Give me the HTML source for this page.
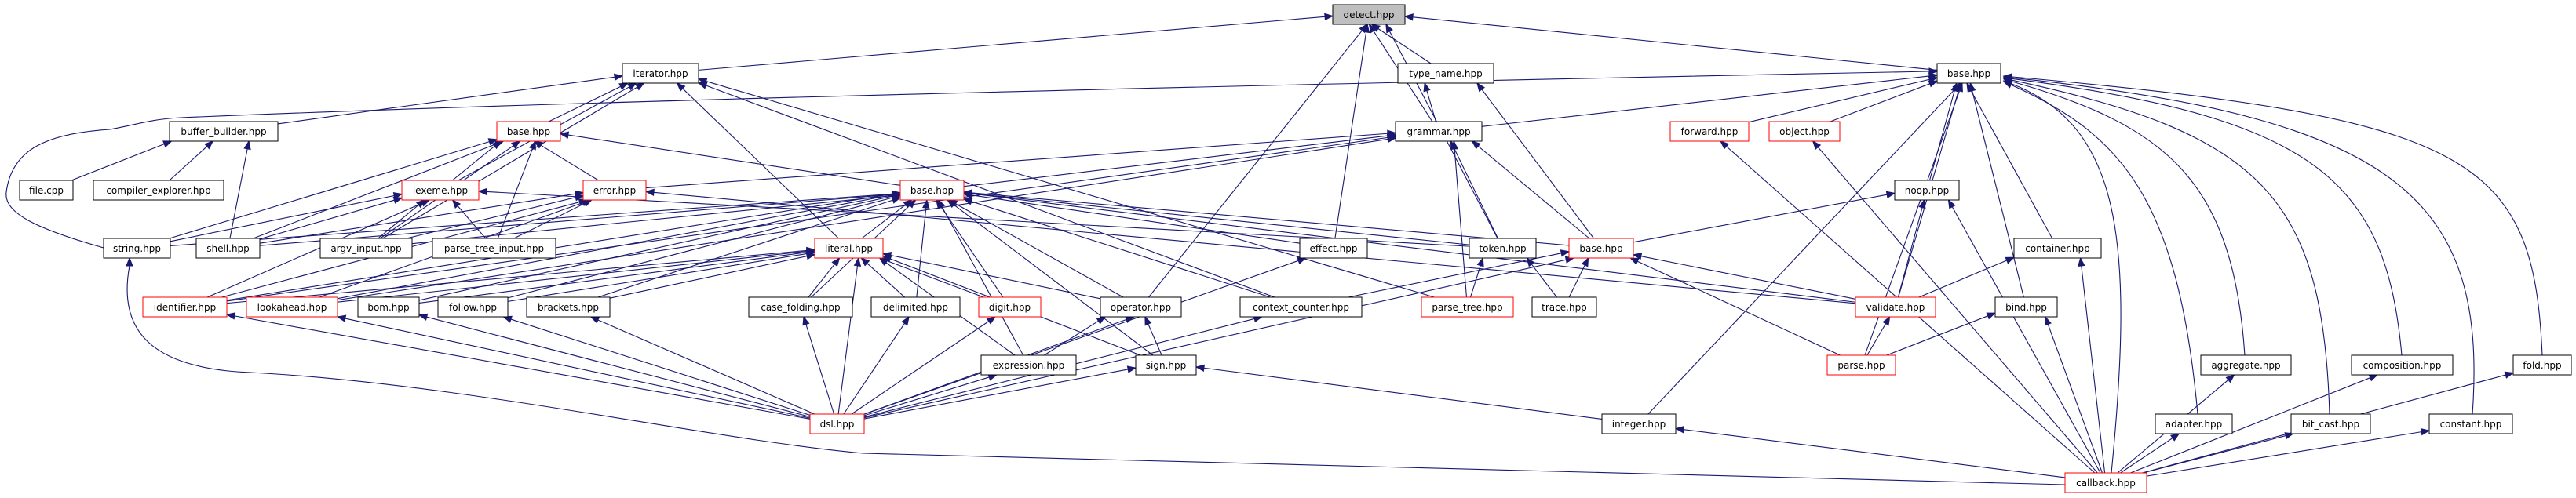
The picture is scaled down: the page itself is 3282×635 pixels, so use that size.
<!DOCTYPE html>
<html><head><meta charset="utf-8">
<style>
html,body{margin:0;padding:0;background:#fff;}
svg{display:block;}
text{font-family:"DejaVu Sans","Liberation Sans",sans-serif;font-size:12px;fill:#000;}
</style></head>
<body>
<svg id="g" width="3282" height="635" viewBox="0 0 3282 635" xmlns="http://www.w3.org/2000/svg">
<g id="edges" fill="none" stroke="#191970" stroke-width="1.1">
<path d="M165,339 C150,420 190,470 320,475 C600,490 900,560 1100,578 L2631,618"/>
<path d="M132,316 C40,290 5,270 8,245 C15,190 60,170 140,165 C170,160 190,152 230,150 C700,130 1500,110 2458,91"/>
</g>
<g id="heads" fill="#191970" stroke="#191970">
<polygon points="165,329 161,339 169,339"/>
<polygon points="2468,91 2458,87 2458,95"/>
</g>
<g id="nodes">
<rect x="1698" y="6" width="92" height="25" fill="#bfbfbf" stroke="#000"/><text x="1744" y="23" text-anchor="middle">detect.hpp</text>
<rect x="793" y="81" width="97" height="25" fill="#fff" stroke="#000"/><text x="841.5" y="98" text-anchor="middle">iterator.hpp</text>
<rect x="1781" y="81" width="122" height="25" fill="#fff" stroke="#000"/><text x="1842" y="98" text-anchor="middle">type_name.hpp</text>
<rect x="2468" y="81" width="81" height="25" fill="#fff" stroke="#000"/><text x="2508.5" y="98" text-anchor="middle">base.hpp</text>
<rect x="216" y="155" width="138" height="25" fill="#fff" stroke="#000"/><text x="285" y="172" text-anchor="middle">buffer_builder.hpp</text>
<rect x="633" y="155" width="81" height="25" fill="#fff" stroke="#f00"/><text x="673.5" y="172" text-anchor="middle">base.hpp</text>
<rect x="1778" y="155" width="110" height="25" fill="#fff" stroke="#000"/><text x="1833" y="172" text-anchor="middle">grammar.hpp</text>
<rect x="2128" y="155" width="100" height="25" fill="#fff" stroke="#f00"/><text x="2178" y="172" text-anchor="middle">forward.hpp</text>
<rect x="2254" y="155" width="90" height="25" fill="#fff" stroke="#f00"/><text x="2299" y="172" text-anchor="middle">object.hpp</text>
<rect x="25" y="230" width="68" height="25" fill="#fff" stroke="#000"/><text x="59" y="247" text-anchor="middle">file.cpp</text>
<rect x="119" y="230" width="166" height="25" fill="#fff" stroke="#000"/><text x="202" y="247" text-anchor="middle">compiler_explorer.hpp</text>
<rect x="512" y="230" width="98" height="25" fill="#fff" stroke="#f00"/><text x="561" y="247" text-anchor="middle">lexeme.hpp</text>
<rect x="743" y="230" width="80" height="25" fill="#fff" stroke="#f00"/><text x="783" y="247" text-anchor="middle">error.hpp</text>
<rect x="1147" y="230" width="81" height="25" fill="#fff" stroke="#f00"/><text x="1187.5" y="247" text-anchor="middle">base.hpp</text>
<rect x="2414" y="230" width="82" height="25" fill="#fff" stroke="#000"/><text x="2455" y="247" text-anchor="middle">noop.hpp</text>
<rect x="132" y="304" width="85" height="25" fill="#fff" stroke="#000"/><text x="174.5" y="321" text-anchor="middle">string.hpp</text>
<rect x="250" y="304" width="81" height="25" fill="#fff" stroke="#000"/><text x="290.5" y="321" text-anchor="middle">shell.hpp</text>
<rect x="408" y="304" width="117" height="25" fill="#fff" stroke="#000"/><text x="466.5" y="321" text-anchor="middle">argv_input.hpp</text>
<rect x="551" y="304" width="157" height="25" fill="#fff" stroke="#000"/><text x="629.5" y="321" text-anchor="middle">parse_tree_input.hpp</text>
<rect x="1038" y="304" width="87" height="25" fill="#fff" stroke="#f00"/><text x="1081.5" y="321" text-anchor="middle">literal.hpp</text>
<rect x="1656" y="304" width="86" height="25" fill="#fff" stroke="#000"/><text x="1699" y="321" text-anchor="middle">effect.hpp</text>
<rect x="1872" y="304" width="85" height="25" fill="#fff" stroke="#000"/><text x="1914.5" y="321" text-anchor="middle">token.hpp</text>
<rect x="1999" y="304" width="82" height="25" fill="#fff" stroke="#f00"/><text x="2040" y="321" text-anchor="middle">base.hpp</text>
<rect x="2566" y="304" width="111" height="25" fill="#fff" stroke="#000"/><text x="2621.5" y="321" text-anchor="middle">container.hpp</text>
<rect x="182" y="379" width="107" height="25" fill="#fff" stroke="#f00"/><text x="235.5" y="396" text-anchor="middle">identifier.hpp</text>
<rect x="314" y="379" width="116" height="25" fill="#fff" stroke="#f00"/><text x="372" y="396" text-anchor="middle">lookahead.hpp</text>
<rect x="456" y="379" width="78" height="25" fill="#fff" stroke="#000"/><text x="495" y="396" text-anchor="middle">bom.hpp</text>
<rect x="558" y="379" width="89" height="25" fill="#fff" stroke="#000"/><text x="602.5" y="396" text-anchor="middle">follow.hpp</text>
<rect x="671" y="379" width="106" height="25" fill="#fff" stroke="#000"/><text x="724" y="396" text-anchor="middle">brackets.hpp</text>
<rect x="954" y="379" width="132" height="25" fill="#fff" stroke="#000"/><text x="1020" y="396" text-anchor="middle">case_folding.hpp</text>
<rect x="1110" y="379" width="113" height="25" fill="#fff" stroke="#000"/><text x="1166.5" y="396" text-anchor="middle">delimited.hpp</text>
<rect x="1247" y="379" width="79" height="25" fill="#fff" stroke="#f00"/><text x="1286.5" y="396" text-anchor="middle">digit.hpp</text>
<rect x="1402" y="379" width="103" height="25" fill="#fff" stroke="#000"/><text x="1453.5" y="396" text-anchor="middle">operator.hpp</text>
<rect x="1580" y="379" width="155" height="25" fill="#fff" stroke="#000"/><text x="1657.5" y="396" text-anchor="middle">context_counter.hpp</text>
<rect x="1811" y="379" width="117" height="25" fill="#fff" stroke="#f00"/><text x="1869.5" y="396" text-anchor="middle">parse_tree.hpp</text>
<rect x="1952" y="379" width="82" height="25" fill="#fff" stroke="#000"/><text x="1993" y="396" text-anchor="middle">trace.hpp</text>
<rect x="2364" y="379" width="102" height="25" fill="#fff" stroke="#f00"/><text x="2415" y="396" text-anchor="middle">validate.hpp</text>
<rect x="2542" y="379" width="79" height="25" fill="#fff" stroke="#000"/><text x="2581.5" y="396" text-anchor="middle">bind.hpp</text>
<rect x="1250" y="453" width="121" height="25" fill="#fff" stroke="#000"/><text x="1310.5" y="470" text-anchor="middle">expression.hpp</text>
<rect x="1447" y="453" width="77" height="25" fill="#fff" stroke="#000"/><text x="1485.5" y="470" text-anchor="middle">sign.hpp</text>
<rect x="2328" y="453" width="87" height="25" fill="#fff" stroke="#f00"/><text x="2371.5" y="470" text-anchor="middle">parse.hpp</text>
<rect x="2804" y="453" width="115" height="25" fill="#fff" stroke="#000"/><text x="2861.5" y="470" text-anchor="middle">aggregate.hpp</text>
<rect x="2996" y="453" width="129" height="25" fill="#fff" stroke="#000"/><text x="3060.5" y="470" text-anchor="middle">composition.hpp</text>
<rect x="3202" y="453" width="74" height="25" fill="#fff" stroke="#000"/><text x="3239" y="470" text-anchor="middle">fold.hpp</text>
<rect x="1032" y="528" width="69" height="25" fill="#fff" stroke="#f00"/><text x="1066.5" y="545" text-anchor="middle">dsl.hpp</text>
<rect x="2041" y="528" width="94" height="25" fill="#fff" stroke="#000"/><text x="2088" y="545" text-anchor="middle">integer.hpp</text>
<rect x="2746" y="528" width="98" height="25" fill="#fff" stroke="#000"/><text x="2795" y="545" text-anchor="middle">adapter.hpp</text>
<rect x="2919" y="528" width="101" height="25" fill="#fff" stroke="#000"/><text x="2969.5" y="545" text-anchor="middle">bit_cast.hpp</text>
<rect x="3095" y="528" width="106" height="25" fill="#fff" stroke="#000"/><text x="3148" y="545" text-anchor="middle">constant.hpp</text>
<rect x="2631" y="603" width="104" height="25" fill="#fff" stroke="#f00"/><text x="2683" y="620" text-anchor="middle">callback.hpp</text>
</g>
</svg>
<script>
var R=[0,6,81,155,230,304,379,453,528,603];
var N={detect:[1698,1790,1],iterator:[793,890,2],type_name:[1781,1903,2],base_d:[2468,2549,2],
buffer_builder:[216,354,3],base_a:[633,714,3],grammar:[1778,1888,3],forward:[2128,2228,3],object:[2254,2344,3],
file:[25,93,4],compiler_explorer:[119,285,4],lexeme:[512,610,4],error:[743,823,4],base_b:[1147,1228,4],noop:[2414,2496,4],
string:[132,217,5],shell:[250,331,5],argv_input:[408,525,5],parse_tree_input:[551,708,5],literal:[1038,1125,5],effect:[1656,1742,5],token:[1872,1957,5],base_c:[1999,2081,5],container:[2566,2677,5],
identifier:[182,289,6],lookahead:[314,430,6],bom:[456,534,6],follow:[558,647,6],brackets:[671,777,6],case_folding:[954,1086,6],delimited:[1110,1223,6],digit:[1247,1326,6],operator:[1402,1505,6],context_counter:[1580,1735,6],parse_tree:[1811,1928,6],trace:[1952,2034,6],validate:[2364,2466,6],bind:[2542,2621,6],
expression:[1250,1371,7],sign:[1447,1524,7],parse:[2328,2415,7],aggregate:[2804,2919,7],composition:[2996,3125,7],fold:[3202,3276,7],
dsl:[1032,1101,8],integer:[2041,2135,8],adapter:[2746,2844,8],bit_cast:[2919,3020,8],constant:[3095,3201,8],callback:[2631,2735,9]};
var P={detect:"iterator type_name grammar effect operator token base_d",
iterator:"buffer_builder base_a lexeme argv_input literal context_counter parse_tree",
type_name:"grammar base_c",
base_d:"grammar forward object noop container validate parse bind integer callback adapter aggregate bit_cast composition constant fold",
grammar:"error base_b identifier lookahead token parse_tree base_c",
buffer_builder:"file compiler_explorer shell",
base_a:"lexeme error string shell argv_input parse_tree_input base_b",
forward:"callback",object:"callback",
lexeme:"string shell argv_input parse_tree_input identifier token",
error:"shell argv_input parse_tree_input lookahead identifier validate",
base_b:"identifier lookahead bom follow brackets literal case_folding delimited digit operator expression sign context_counter effect token base_c validate string shell argv_input",
noop:"base_c validate callback",effect:"dsl",token:"parse_tree trace",
base_c:"context_counter trace validate parse dsl",container:"validate callback",
literal:"identifier lookahead bom follow brackets case_folding delimited digit operator dsl sign expression",
identifier:"dsl",lookahead:"dsl",bom:"dsl",follow:"dsl",brackets:"dsl",case_folding:"dsl",delimited:"dsl",digit:"dsl",
operator:"expression sign dsl",context_counter:"dsl",validate:"parse",bind:"parse callback",expression:"dsl",sign:"dsl integer",
integer:"callback",aggregate:"callback",composition:"callback",fold:"callback",adapter:"callback",bit_cast:"callback",constant:"callback"};
var O={
"callback>base_d":[2690,603,2720,300,2700,160,2553,103],
"fold>base_d":[3239,453,3228,200,3150,150,2553,97],
"composition>base_d":[3060,453,3040,230,2950,150,2553,99],
"constant>base_d":[3150,528,3170,250,3050,150,2553,98],
"bit_cast>base_d":[2968,528,2960,250,2880,170,2553,100],
"aggregate>base_d":[2860,453,2845,230,2760,160,2553,101],
"adapter>base_d":[2800,528,2775,250,2700,170,2553,104],
"fold>callback":[3239,478,3230,560,3160,580,2735,612],
"composition>callback":[3060,478,3050,580,2900,600,2735,616],
"aggregate>callback":[2860,478,2870,580,2800,600,2735,618]
};
var E=document.getElementById('edges'),H=document.getElementById('heads'),ns="http://www.w3.org/2000/svg";
function clip(n,cx,cy,tx,ty){
 var x1=n[0],x2=n[1],y1=R[n[2]],y2=y1+25;var dx=tx-cx,dy=ty-cy;var t=1e9;
 if(dx>0)t=Math.min(t,(x2-cx)/dx);if(dx<0)t=Math.min(t,(x1-cx)/dx);
 if(dy>0)t=Math.min(t,(y2-cy)/dy);if(dy<0)t=Math.min(t,(y1-cy)/dy);
 return [cx+dx*t,cy+dy*t];}
function head(ex,ey,ax,ay){var L=Math.sqrt(ax*ax+ay*ay)||1;ax/=L;ay/=L;
 var bx=ex-ax*10,by=ey-ay*10,px=-ay,py=ax;
 var poly=document.createElementNS(ns,'polygon');
 poly.setAttribute('points',ex+','+ey+' '+(bx+px*4)+','+(by+py*4)+' '+(bx-px*4)+','+(by-py*4));
 H.appendChild(poly);return [bx,by];}
function addPath(d){var path=document.createElementNS(ns,'path');path.setAttribute('d',d);E.appendChild(path);}
for(var p in P){var kids=P[p].split(' ');var pn=N[p];var n=kids.length;
kids.forEach(function(c,i){var cn=N[c];var key=c+'>'+p;
if(O[key]){var o=O[key];
 var b=head(o[6],o[7],o[6]-o[4],o[7]-o[5]);
 addPath('M'+o[0]+','+o[1]+' C'+o[2]+','+o[3]+' '+o[4]+','+o[5]+' '+b[0]+','+b[1]);return;}
var w=pn[1]-pn[0];
var pcx=(pn[0]+pn[1])/2+(n>1?(i/(n-1)-0.5)*w*0.5:0),pcy=R[pn[2]]+12.5;
var ccx=(cn[0]+cn[1])/2,ccy=R[cn[2]]+12.5;
var s=clip(cn,ccx,ccy,pcx,pcy),e=clip(pn,pcx,pcy,ccx,ccy);
var b=head(e[0],e[1],e[0]-s[0],e[1]-s[1]);
addPath('M'+s[0]+','+s[1]+' L'+b[0]+','+b[1]);
});}
</script>
</body></html>
